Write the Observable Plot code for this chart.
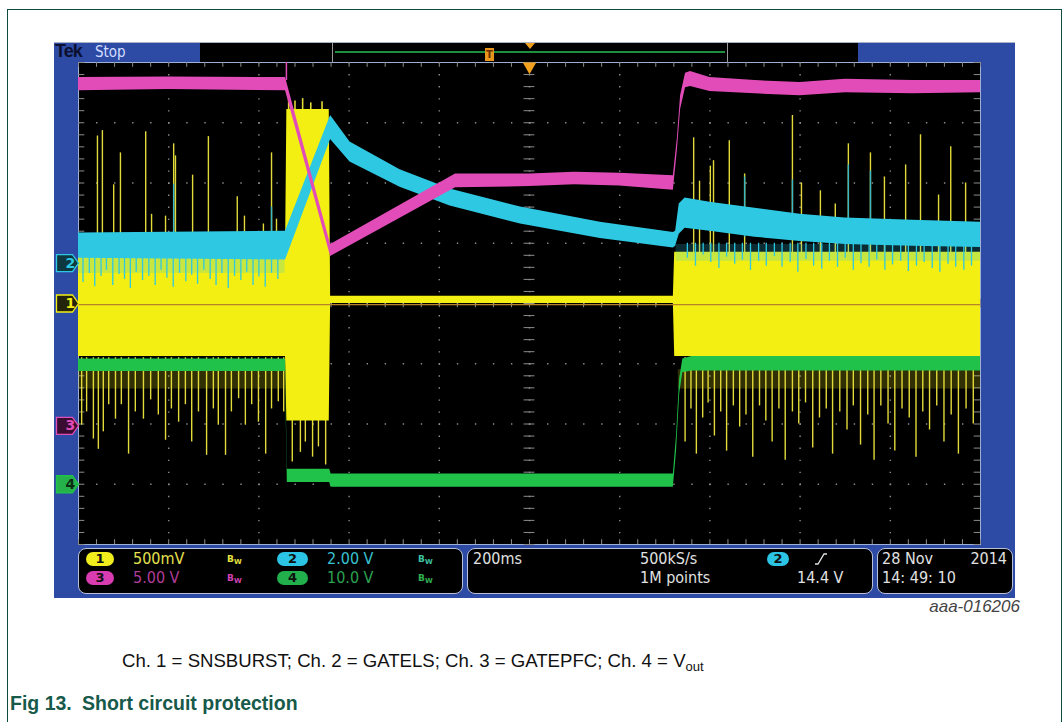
<!DOCTYPE html>
<html>
<head>
<meta charset="utf-8">
<script src="https://cdn.jsdelivr.net/npm/d3@7"></script>
<script src="https://cdn.jsdelivr.net/npm/@observablehq/plot@0.6"></script>
<style>
html,body{margin:0;padding:0;background:#fff;}
body{width:1063px;height:722px;position:relative;overflow:hidden;font-family:"Liberation Sans",Arial,sans-serif;}
#border{position:absolute;left:7px;top:9px;width:1055px;height:800px;border:1.5px solid #0d4d3e;box-sizing:border-box;}
#scope{position:absolute;left:54px;top:42px;width:961px;height:556px;background:#2d4ba5;font-family:"DejaVu Sans Condensed","DejaVu Sans",sans-serif;}
.abs{position:absolute;white-space:nowrap;}
.blk{position:absolute;background:#000;}
.box{position:absolute;top:506px;height:46px;background:#000;border:1.5px solid #b9c1d9;border-radius:8px;box-sizing:border-box;}
.t{position:absolute;white-space:nowrap;font-size:16px;line-height:18px;color:#e2e2e2;}
.pill{position:absolute;height:14px;border-radius:7px;font:bold 13px/14px "DejaVu Sans",sans-serif;text-align:center;color:#101010;}
.bw{position:absolute;font:bold 9px/10px "DejaVu Sans",sans-serif;}
.bw sub{font-size:7px;vertical-align:-2px;}
</style>
</head>
<body>
<div id="border"></div>
<div id="scope">
  <div class="abs" style="left:0;top:0;width:961px;height:1px;background:#aab3c6;"></div>
  <div class="abs" style="left:1px;top:-1px;font:900 18px/21px 'Liberation Sans',Arial,sans-serif;color:#0b1030;letter-spacing:-1px;">Tek</div>
  <div class="abs" style="left:41px;top:0;font-size:15px;line-height:20px;color:#d3ddff;">Stop</div>
  <div class="blk" style="left:146px;top:1px;width:132px;height:19px;"></div>
  <div class="blk" style="left:278px;top:1px;width:396px;height:19px;border-left:1px solid #9a9a9a;border-right:1px solid #9a9a9a;box-sizing:border-box;"></div>
  <div class="abs" style="left:281px;top:9px;width:390px;height:2px;background:#1e8f3e;"></div>
  <div class="abs" style="left:431px;top:6px;width:9px;height:13px;background:#e8961e;color:#6a3000;font:bold 10px/13px 'DejaVu Sans',sans-serif;text-align:center;">T</div>
  <div class="abs" style="left:471px;top:1px;width:0;height:0;border-left:5px solid transparent;border-right:5px solid transparent;border-top:6px solid #f0a020;"></div>
  <div class="blk" style="left:674px;top:1px;width:130px;height:19px;"></div>
  <div id="plot" class="abs" style="left:0;top:20px;"></div>

  <div class="box" style="left:24px;width:385px;">
    <div class="pill" style="left:7px;top:3px;width:28px;background:#f2ee1e;">1</div>
    <div class="t" style="left:54px;top:1px;color:#e6e050;">500mV</div>
    <div class="bw" style="left:148px;top:5px;color:#e8e040;">B<sub>W</sub></div>
    <div class="pill" style="left:198px;top:3px;width:31px;background:#2cc4e4;">2</div>
    <div class="t" style="left:248px;top:1px;color:#38c2d2;">2.00 V</div>
    <div class="bw" style="left:339px;top:5px;color:#3cc0a0;">B<sub>W</sub></div>
    <div class="pill" style="left:7px;top:22px;width:28px;background:#d83cb0;">3</div>
    <div class="t" style="left:54px;top:20px;color:#b03c98;">5.00 V</div>
    <div class="bw" style="left:148px;top:24px;color:#d040b0;">B<sub>W</sub></div>
    <div class="pill" style="left:198px;top:22px;width:31px;background:#22b04c;">4</div>
    <div class="t" style="left:248px;top:20px;color:#2ca050;">10.0 V</div>
    <div class="bw" style="left:339px;top:24px;color:#30b050;">B<sub>W</sub></div>
  </div>
  <div class="box" style="left:413px;width:406px;">
    <div class="t" style="left:5px;top:1px;">200ms</div>
    <div class="t" style="left:172px;top:1px;">500kS/s</div>
    <div class="t" style="left:172px;top:20px;">1M points</div>
    <div class="pill" style="left:299px;top:3px;width:22px;background:#2cc4e4;">2</div>
    <svg class="abs" style="left:346px;top:3px;" width="14" height="14"><path d="M1,12 L4,12 L10,2 L13,2" fill="none" stroke="#e2e2e2" stroke-width="1.3"/></svg>
    <div class="t" style="left:329px;top:20px;">14.4 V</div>
  </div>
  <div class="box" style="left:823px;width:136px;">
    <div class="t" style="left:4px;top:1px;">28 Nov</div>
    <div class="t" style="right:5px;top:1px;">2014</div>
    <div class="t" style="left:4px;top:20px;">14: 49: 10</div>
  </div>
</div>
<div class="abs" style="right:43px;top:597px;font-style:italic;font-size:17px;color:#444;">aaa-016206</div>
<div class="abs" style="left:122px;top:650px;font-size:18.6px;color:#111;">Ch. 1 = SNSBURST; Ch. 2 = GATELS; Ch. 3 = GATEPFC; Ch. 4 = V<sub style="font-size:0.7em;vertical-align:-4px;">out</sub></div>
<div class="abs" style="left:10px;top:692px;font-size:19.5px;font-weight:bold;color:#17594a;">Fig 13.</div>
<div class="abs" style="left:82px;top:692px;font-size:19.5px;font-weight:bold;color:#17594a;">Short circuit protection</div>

<script>
// Time axis: ms from left edge of the 10-division screen (200 ms/div); vertical in divisions.
// Ch3 GATEPFC (magenta) envelope
const ch3Time = [0, 200, 459, 559, 836, 1000, 1100, 1200, 1319, 1328, 1335, 1346, 1357, 1400, 1500, 1600, 1700, 1850, 2000];
const ch3Low  = [3.53, 3.55, 3.53, 0.78, 1.92, 1.94, 1.97, 1.95, 1.88, 2.55, 3.22, 3.58, 3.6, 3.52, 3.48, 3.45, 3.5, 3.48, 3.5];
const ch3High = [3.75, 3.76, 3.75, 0.98, 2.15, 2.15, 2.18, 2.16, 2.12, 2.75, 3.45, 3.82, 3.85, 3.75, 3.7, 3.67, 3.72, 3.7, 3.7];
// Ch2 GATELS (cyan) envelope
const ch2Time = [0, 459, 559, 602, 713, 824, 980, 1157, 1319, 1324, 1332, 1345, 1400, 1500, 1600, 1700, 1850, 2000];
const ch2Low  = [0.75, 0.72, 2.72, 2.35, 1.93, 1.62, 1.32, 1.08, 0.92, 0.95, 1.15, 1.25, 1.2, 1.1, 1.03, 0.98, 0.95, 0.93];
const ch2High = [1.17, 1.2, 3.12, 2.68, 2.22, 1.9, 1.6, 1.35, 1.18, 1.2, 1.65, 1.75, 1.68, 1.58, 1.48, 1.42, 1.38, 1.35];
// Ch1 SNSBURST (yellow) envelope
const ch1Time = [0, 459, 462, 556, 559, 1319, 1322, 2000];
const ch1Low  = [-0.88, -0.88, -1.95, -1.95, 0.0, 0.0, -0.88, -0.88];
const ch1High = [0.8, 0.8, 3.22, 3.22, 0.12, 0.12, 0.85, 0.85];
// Ch4 Vout (green) envelope
const ch4Time = [0, 459, 463, 557, 560, 1319, 1326, 1333, 1340, 1360, 2000];
const ch4Low  = [-1.13, -1.13, -2.97, -2.97, -3.05, -3.05, -2.45, -1.5, -1.15, -1.12, -1.12];
const ch4High = [-0.92, -0.92, -2.75, -2.75, -2.83, -2.83, -2.2, -1.25, -0.92, -0.88, -0.88];

// Ch1 spikes
const ch1UpTime = [42, 53, 78, 93, 149, 162, 193, 211, 215, 253, 288, 352, 368, 410, 428, 439, 1364, 1377, 1401, 1408, 1443, 1477, 1583, 1603, 1645, 1678, 1707, 1756, 1787, 1834, 1867, 1907, 1934, 1967];
const ch1UpTop  = [2.78, 2.87, 1.97, 2.5, 2.85, 1.48, 1.45, 2.65, 2.45, 2.13, 2.77, 1.77, 1.45, 1.32, 2.5, 1.4, 2.75, 2.03, 2.28, 2.37, 2.7, 2.15, 3.12, 2.0, 1.87, 1.65, 2.65, 2.5, 2.1, 2.3, 2.8, 1.8, 2.6, 2.0];
const ch1DownTime = [7, 18, 33, 44, 55, 67, 82, 95, 111, 126, 144, 160, 177, 193, 206, 222, 237, 251, 266, 284, 299, 310, 326, 339, 355, 370, 384, 399, 415, 428, 443, 455,
  1345, 1358, 1370, 1384, 1396, 1410, 1424, 1437, 1452, 1466, 1480, 1495, 1510, 1524, 1538, 1553, 1567, 1583, 1597, 1612, 1628, 1643, 1658, 1672, 1688, 1704, 1718, 1734, 1750, 1764, 1779, 1795, 1810, 1826, 1842, 1857, 1872, 1887, 1903, 1919, 1935, 1951, 1968, 1984];
const ch1DownEnd = [-2.02, -1.8, -2.25, -2.42, -2.13, -1.68, -1.92, -1.68, -2.5, -1.8, -1.92, -1.6, -1.85, -2.27, -1.75, -1.97, -1.68, -2.3, -1.8, -2.52, -1.75, -2.02, -2.52, -1.8, -1.58, -2.02, -1.68, -1.97, -2.5, -1.75, -1.63, -1.8,
  -2.3, -1.75, -2.5, -1.9, -1.65, -2.2, -1.8, -2.45, -1.7, -2.05, -1.85, -2.55, -1.7, -1.95, -2.3, -1.75, -2.6, -1.8, -2.0, -1.65, -2.4, -1.9, -1.75, -2.5, -1.8, -2.1, -1.7, -2.35, -1.85, -2.6, -1.7, -2.0, -2.45, -1.75, -1.9, -2.55, -1.8, -2.1, -1.7, -2.3, -1.85, -2.5, -1.75, -2.0];
const ch1BurstUpTime = [466, 480, 497, 515, 540];
const ch1BurstUpTop  = [3.42, 3.36, 3.4, 3.33, 3.35];
const ch1BurstDownTime = [474, 492, 503, 519, 532, 548];
const ch1BurstDownEnd  = [-2.63, -2.47, -2.3, -2.55, -2.38, -2.68];

// Ch2 spikes
const ch2DownTime = [10, 24, 36, 50, 62, 76, 90, 102, 115, 128, 142, 156, 170, 183, 196, 210, 224, 238, 251, 264, 278, 292, 305, 318, 332, 346, 360, 373, 387, 400, 414, 428, 442,
  1350, 1368, 1385, 1402, 1420, 1437, 1455, 1472, 1490, 1508, 1525, 1543, 1560, 1578, 1595, 1613, 1630, 1648, 1665, 1683, 1700, 1718, 1735, 1753, 1770, 1788, 1805, 1823, 1840, 1858, 1875, 1893, 1910, 1928, 1945, 1963, 1980];
const ch2DownEnd = [0.35, 0.5, 0.28, 0.45, 0.55, 0.3, 0.48, 0.4, 0.25, 0.52, 0.38, 0.45, 0.3, 0.55, 0.42, 0.27, 0.5, 0.36, 0.47, 0.32, 0.55, 0.4, 0.3, 0.5, 0.25, 0.45, 0.38, 0.52, 0.3, 0.44, 0.27, 0.5, 0.4,
  0.75, 0.62, 0.8, 0.68, 0.58, 0.77, 0.65, 0.72, 0.55, 0.7, 0.62, 0.78, 0.6, 0.68, 0.52, 0.73, 0.62, 0.57, 0.7, 0.6, 0.75, 0.55, 0.66, 0.6, 0.72, 0.55, 0.64, 0.7, 0.53, 0.62, 0.68, 0.58, 0.52, 0.65, 0.6, 0.55, 0.62];
const ch2UpTime = [211, 428, 1477, 1583, 1707, 1756];
const ch2UpTop  = [1.98, 1.6, 2.1, 2.05, 2.3, 2.2];

// Dense noise fringes (channel, span, level range)
const fringeCh  = ["1", "1", "2", "2"];
const fringeT0  = [0, 1330, 0, 1325];
const fringeT1  = [458, 2000, 458, 2000];
const fringeLo  = [-1.42, -1.42, 0.5, 0.7];
const fringeHi  = [-1.1, -1.1, 0.76, 0.98];

// Channel ground-reference markers
const markerCh    = ["2", "1", "3", "4"];
const markerLevel = [0.67, 0, -2.03, -3.0];

const YEL = "#f3ef12", CYA = "#2ec8e2", MAG = "#e14cb8", GRN = "#20c24a", SPK = "#e2da3a";
const chColor = {"1": YEL, "2": CYA, "3": MAG, "4": GRN};
const tagFill = {"1": "#24240a", "2": "#0d3840", "3": "#3a0c32", "4": "#26b24a"};
const tagText = {"1": YEL, "2": CYA, "3": MAG, "4": "#0b2a12"};

const rows = (t, lo, hi) => t.map((d, i) => ({t: d, lo: lo[i], hi: hi[i]}));
const pts = (t, v) => t.map((d, i) => ({t: d, v: v[i]}));
const fringes = fringeCh.map((c, i) => ({ch: c, t0: fringeT0[i], t1: fringeT1[i], lo: fringeLo[i], hi: fringeHi[i]}));
const markers = markerCh.map((c, i) => ({ch: c, v: markerLevel[i]}));

const gridX = d3.range(200, 2000, 200), gridY = d3.range(-3, 4, 1);
const minorX = d3.range(0, 2001, 40), minorY = d3.range(-4, 4.001, 0.2);
const GC = "#8c8c8c";

const tag = {draw(ctx) {
  ctx.moveTo(-22, -8.5); ctx.lineTo(-6, -8.5); ctx.lineTo(0, 0); ctx.lineTo(-6, 8.5); ctx.lineTo(-22, 8.5); ctx.closePath();
}};

const chart = Plot.plot({
  width: 961, height: 482,
  marginLeft: 24, marginRight: 35, marginTop: 0, marginBottom: 0,
  x: {domain: [0, 2000], axis: null},
  y: {domain: [-4, 4], axis: null},
  color: {type: "identity"},
  style: {background: "transparent", overflow: "visible"},
  marks: [
    Plot.frame({fill: "#000", stroke: "#9fb0d6", strokeWidth: 1}),
    Plot.ruleX(gridX, {stroke: GC, strokeWidth: 1.4, strokeDasharray: "1.4,10.65"}),
    Plot.ruleY(gridY, {stroke: GC, strokeWidth: 1.4, strokeDasharray: "1.4,16.64"}),
    Plot.ruleX(minorX, {y1: -0.07, y2: 0.07, stroke: GC}),
    Plot.ruleY(minorY, {x1: 988, x2: 1012, stroke: GC}),
    Plot.ruleX(minorX, {y1: 4, y2: 3.92, stroke: GC}),
    Plot.ruleX(minorX, {y1: -4, y2: -3.92, stroke: GC}),
    Plot.ruleY(minorY, {x1: 0, x2: 14, stroke: GC}),
    Plot.ruleY(minorY, {x1: 1986, x2: 2000, stroke: GC}),

    // Ch1 yellow
    Plot.rect(fringes.filter(d => d.ch === "1"), {x1: "t0", x2: "t1", y1: "lo", y2: "hi", fill: YEL, fillOpacity: 0.2}),
    Plot.ruleX(pts(ch1DownTime, ch1DownEnd), {x: "t", y1: -0.9, y2: "v", stroke: SPK, strokeWidth: 1.4}),
    Plot.ruleX(pts(ch1BurstDownTime, ch1BurstDownEnd), {x: "t", y1: -1.9, y2: "v", stroke: SPK, strokeWidth: 1.4}),
    Plot.ruleX(pts(ch1BurstUpTime, ch1BurstUpTop), {x: "t", y1: 3.1, y2: "v", stroke: SPK, strokeWidth: 1.6}),
    Plot.ruleX(pts(ch1UpTime, ch1UpTop), {x: "t", y1: 0.75, y2: "v", stroke: SPK, strokeWidth: 1.4}),
    Plot.areaY(rows(ch1Time, ch1Low, ch1High), {x: "t", y1: "lo", y2: "hi", fill: YEL, curve: "linear"}),
    Plot.ruleY([0], {stroke: "#b8822c", strokeWidth: 1.2, y: d => d - 0.02}),

    // Ch4 green
    Plot.areaY(rows(ch4Time, ch4Low, ch4High), {x: "t", y1: "lo", y2: "hi", fill: GRN, curve: "linear"}),

    // Ch2 cyan
    Plot.rect(fringes.filter(d => d.ch === "2"), {x1: "t0", x2: "t1", y1: "lo", y2: "hi", fill: CYA, fillOpacity: 0.22}),
    Plot.ruleX(pts(ch2DownTime, ch2DownEnd), {x: "t", y1: 1.0, y2: "v", stroke: CYA, strokeWidth: 1.3}),
    Plot.ruleX(pts(ch2UpTime, ch2UpTop), {x: "t", y1: 1.1, y2: "v", stroke: "#3ab8c8", strokeWidth: 1.4}),
    Plot.areaY(rows(ch2Time, ch2Low, ch2High), {x: "t", y1: "lo", y2: "hi", fill: CYA, curve: "linear"}),

    // Ch3 magenta
    Plot.areaY(rows(ch3Time, ch3Low, ch3High), {x: "t", y1: "lo", y2: "hi", fill: MAG, curve: "linear"}),
    Plot.ruleX([461], {x: d => d, y1: 3.7, y2: 4, stroke: MAG, strokeWidth: 1.5}),

    // Ground markers and trigger position
    Plot.dot(markers, {y: "v", frameAnchor: "left", symbol: tag, r: 10, fill: d => tagFill[d.ch], stroke: d => chColor[d.ch], strokeWidth: 1.3}),
    Plot.text(markers, {y: "v", text: "ch", frameAnchor: "left", dx: -13, fill: d => tagText[d.ch], fontSize: 14, fontWeight: "bold", fontFamily: "DejaVu Sans"}),
    Plot.dot([1000], {x: d => d, frameAnchor: "top", symbol: "triangle", r: 5, rotate: 180, fill: "#f2a11f", dy: 4})
  ]
});
document.getElementById("plot").appendChild(chart);
</script>
</body>
</html>
